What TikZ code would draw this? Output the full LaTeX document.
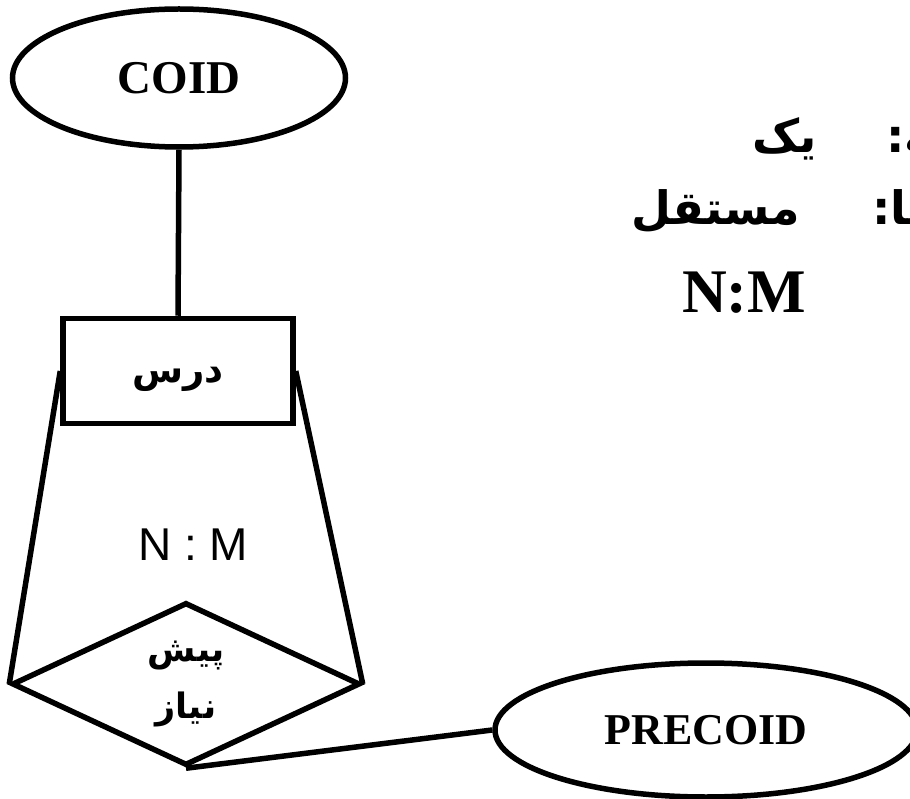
\documentclass[tikz,border=0pt]{standalone}
\usepackage{fontspec}
\usetikzlibrary{shapes.geometric}
\setmainfont{Liberation Serif}
\newfontfamily\arabicfont[Script=Arabic]{DejaVu Sans}
\newfontfamily\latinsans{Liberation Sans}
\TeXXeTstate=1
\tikzset{
  erline/.style={line width=5.5pt, line join=miter},
  erattr/.style={ellipse, draw, erline, inner sep=0pt, font=\bfseries\fontsize{44}{50}\selectfont},
  erent/.style={rectangle, draw, erline, inner sep=0pt, minimum width=230pt, minimum height=105pt,
                font=\arabicfont\bfseries\fontsize{37}{44}\selectfont},
  errel/.style={diamond, draw, erline, inner sep=0pt, minimum width=348pt, minimum height=161pt,
                align=center, font=\arabicfont\bfseries\fontsize{35}{57}\selectfont},
  sidefa/.style={inner sep=0pt, font=\arabicfont\bfseries\fontsize{46}{52}\selectfont},
  sidelat/.style={inner sep=0pt, font=\bfseries\fontsize{62}{70}\selectfont},
  card/.style={inner sep=0pt, font=\latinsans\fontsize{46}{50}\selectfont}
}
\begin{document}
\begin{tikzpicture}[x=1pt,y=-1pt]
\clip (0,0) rectangle (910,799);
\fill[white] (0,0) rectangle (910,799);

\node[erattr, minimum width=333pt, minimum height=138pt, font=\bfseries\fontsize{47}{52}\selectfont] (coid) at (179,78) {COID};
\node[erent] (dars) at (178,371) {\raisebox{-12pt}[0pt][0pt]{\beginR درس\endR}};
\node[errel] (pish) at (186,684) {\beginR پیش\endR\\\beginR نیاز\endR};
\node[erattr, minimum width=422pt, minimum height=134pt] (precoid) at (706,730) {PRECOID};
\node[card] (nm) at (193,545) {N : M};

\draw[erline] (coid.south) -- (dars.north);
\draw[erline] (dars.west) -- (pish.west);
\draw[erline] (dars.east) -- (pish.east);
\draw[erline] (pish.south) -- (precoid.west);

\node[sidefa, anchor=base west] (lbl1) at (886,153) {\beginR درجه:\endR};
\node[sidefa, anchor=base east] (val1) at (817,153) {\beginR یک\endR};
\node[sidefa, anchor=base west] (lbl2) at (872,225) {\beginR نوع موجودیت‌ها:\endR};
\node[sidefa, anchor=base east] (val2) at (800,225) {\beginR مستقل\endR};
\node[sidelat, anchor=base west] (val3) at (682,313) {N:M};
\end{tikzpicture}
\end{document}
